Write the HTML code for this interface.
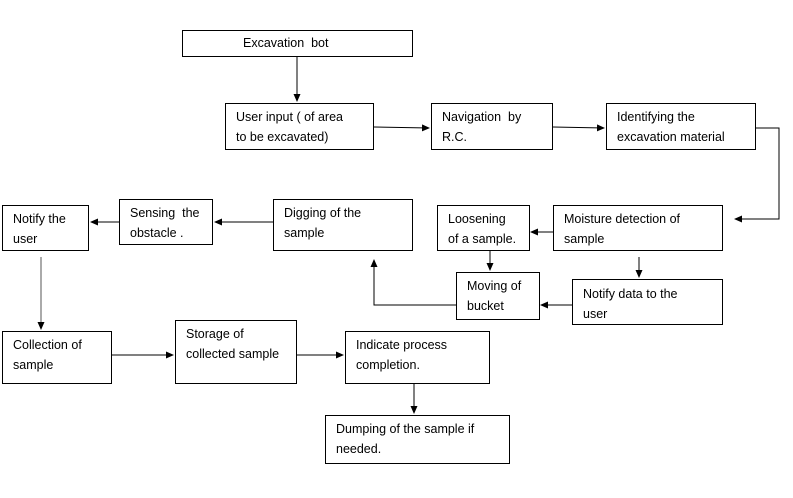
<!DOCTYPE html>
<html><head><style>
body{margin:0;background:#fff;width:793px;height:498px;overflow:hidden;position:relative;font-family:"Liberation Sans",sans-serif;font-size:12.5px;color:#000}
.b{position:absolute;border:1px solid #000;box-sizing:border-box;line-height:20px;padding:3px 0 0 10px;white-space:nowrap}
svg{position:absolute;left:0;top:0}
</style></head><body>
<svg width="793" height="498">
<defs><marker id="a" markerWidth="8" markerHeight="8" refX="7" refY="4" orient="auto" markerUnits="userSpaceOnUse"><path d="M0,0.5 L8,4 L0,7.5z" fill="#000"/></marker></defs>
<g stroke="#000" fill="none" stroke-width="1" marker-end="url(#a)">
<path d="M297,57 V101"/>
<path d="M374,127 L429,128"/>
<path d="M553,127 L604,128"/>
<path d="M756,128 H779 V219 H735"/>
<path d="M553,232 H531"/>
<path d="M639,257 V277"/>
<path d="M490,251 V270"/>
<path d="M572,305 H541"/>
<path d="M456,305 H374 V260"/>
<path d="M273,222 H215"/>
<path d="M119,222 H91"/>
<path d="M41,257 V329" stroke="#555"/>
<path d="M112,355 H173"/>
<path d="M297,355 H343"/>
<path d="M414,384 V413"/>
</g>
</svg>
<div class="b" style="left:182px;top:30px;width:231px;height:27px;padding:2px 0 0 60px">Excavation&nbsp; bot</div>
<div class="b" style="left:225px;top:103px;width:149px;height:47px">User input ( of area<br>to be excavated)</div>
<div class="b" style="left:431px;top:103px;width:122px;height:47px">Navigation&nbsp; by<br>R.C.</div>
<div class="b" style="left:606px;top:103px;width:150px;height:47px">Identifying the<br>excavation material</div>
<div class="b" style="left:2px;top:205px;width:87px;height:46px">Notify the<br>user</div>
<div class="b" style="left:119px;top:199px;width:94px;height:46px">Sensing&nbsp; the<br>obstacle .</div>
<div class="b" style="left:273px;top:199px;width:140px;height:52px">Digging of the<br>sample</div>
<div class="b" style="left:437px;top:205px;width:93px;height:46px">Loosening<br>of a sample.</div>
<div class="b" style="left:553px;top:205px;width:170px;height:46px">Moisture detection of<br>sample</div>
<div class="b" style="left:456px;top:272px;width:84px;height:48px">Moving of<br>bucket</div>
<div class="b" style="left:572px;top:279px;width:151px;height:46px;padding-top:4px">Notify data to the<br>user</div>
<div class="b" style="left:2px;top:331px;width:110px;height:53px">Collection of<br>sample</div>
<div class="b" style="left:175px;top:320px;width:122px;height:64px">Storage of<br>collected sample</div>
<div class="b" style="left:345px;top:331px;width:145px;height:53px">Indicate process<br>completion.</div>
<div class="b" style="left:325px;top:415px;width:185px;height:49px">Dumping of the sample if<br>needed.</div>
</body></html>
